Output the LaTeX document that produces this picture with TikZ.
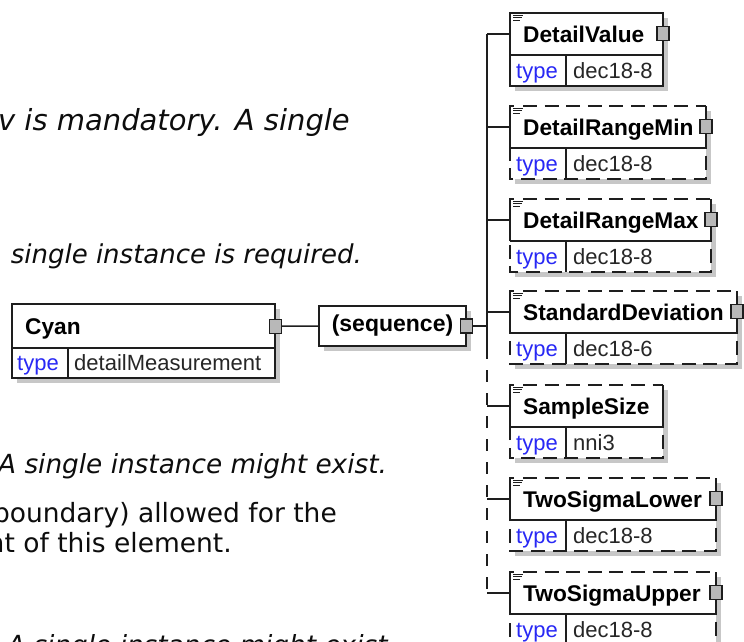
\documentclass[tikz,border=0pt]{standalone}
\usepackage{fontspec}
\setmainfont{DejaVu Sans}
\newfontfamily\dfont{Liberation Sans}
\definecolor{tyblue}{RGB}{40,40,245}
\definecolor{lncol}{RGB}{30,30,30}
\tikzset{
  ln/.style={draw=lncol, line width=1.5pt},
  dsh/.style={dash pattern=on 14pt off 7.6pt},
  busdash/.style={dash pattern=on 12pt off 11pt},
  shd/.style={fill=black!22},
  sqbox/.style={draw=lncol, line width=1.3pt, fill=black!28, minimum width=12pt, minimum height=14pt, inner sep=0pt},
  namerow/.style={inner sep=0pt, minimum height=42pt, anchor=north west},
  nmtxt/.style={font=\dfont\bfseries\fontsize{22.7}{25}\selectfont, inner sep=0pt, anchor=base west},
  tytxt/.style={font=\dfont\fontsize{22}{24}\selectfont, inner sep=0pt, anchor=base west, text=tyblue},
  vltxt/.style={font=\dfont\fontsize{22}{24}\selectfont, inner sep=0pt, anchor=base west, text=black!85},
  doctxt/.style={inner sep=0pt, text=black!95},
}
% #1 node name, #2 left, #3 top, #4 right, #5 label, #6 type, #7 optional (0/1), #8 square (0/1)
\newcommand\xelem[8]{%
  \fill[shd] (#2+5,#3+5) rectangle (#4+5,#3+78);
  \fill[white] (#2,#3) rectangle (#4,#3+73);
  \node[namerow, minimum width={(#4-#2)*1pt}] (#1) at (#2,#3) {};
  \ifnum#7=0\relax
    \draw[ln] (#2,#3) rectangle (#4,#3+73);
    \draw[ln] (#2,#3+42) -- (#4,#3+42);
  \else
    \draw[ln] (#2,#3+42) -- (#2,#3) -- (#2+4,#3);
    \draw[ln,dsh] (#2+13,#3) -- (#4,#3);
    \draw[ln] (#4,#3) -- (#4,#3+42) -- (#2,#3+42);
    \draw[ln,dsh,dash phase=14pt] (#4,#3+42) -- (#4,#3+73) -- (#2,#3+73) -- (#2,#3+42);
  \fi
  \draw[ln] (#2+56,#3+42) -- (#2+56,#3+73);
  \foreach \kk/\ww in {2/10,4.5/9,7/7} \draw[lncol, line width=0.9pt] (#2+3,#3+\kk) -- ++(\ww,0);
  \node[nmtxt] (#1-n) at (#2+13,#3+29) {#5};
  \node[tytxt] (#1-k) at (#2+6,#3+65) {type};
  \node[vltxt] (#1-v) at (#2+63,#3+65) {#6};
  \ifnum#8=1\relax \node[sqbox] (#1-sq) at (#4,#3+20.5) {};\fi
}
\begin{document}
\begin{tikzpicture}[x=1pt,y=-1pt]
\clip (0,0) rectangle (744,641);
\fill[white] (0,0) rectangle (744,641);

% page text
\node[doctxt, anchor=base east, font=\fontsize{29}{32}\selectfont\itshape] (t1) at (350,130.5) {v is mandatory. A single};
\node[doctxt, anchor=base east, font=\fontsize{26}{30}\selectfont\itshape] (t2) at (362,263) {single instance is required.};
\node[doctxt, anchor=base west, font=\fontsize{26.3}{30}\selectfont\itshape] (t3) at (-2,473) {A single instance might exist.};
\node[doctxt, anchor=base east, font=\fontsize{26.5}{30}\selectfont] (t4) at (337,522) {boundary) allowed for the};
\node[doctxt, anchor=base east, font=\fontsize{26.5}{30}\selectfont] (t5) at (232,552) {nt of this element.};
\node[doctxt, anchor=base west, font=\fontsize{26.3}{30}\selectfont\itshape] (t6) at (7,654) {A single instance might exist};

% Cyan element
\fill[shd] (17,309) rectangle (280,383);
\fill[white] (12,304) rectangle (275,378);
\node[inner sep=0pt, minimum width=263pt, minimum height=44pt, anchor=north west] (cyan) at (12,304) {};
\draw[ln] (12,304) rectangle (275,378);
\draw[ln] (12,348) -- (275,348);
\draw[ln] (68,348) -- (68,378);
\node[nmtxt] (cyan-n) at (25,334) {Cyan};
\node[tytxt] (cyan-k) at (17,370) {type};
\node[vltxt] (cyan-v) at (74,370) {detailMeasurement};
\node[sqbox] (cyan-sq) at (cyan.east) {};

% sequence
\fill[shd] (324,311) rectangle (471,351);
\node[draw=lncol, line width=1.5pt, fill=white, minimum width=147pt, minimum height=40pt, inner sep=0pt,
      font=\dfont\bfseries\fontsize{23}{25}\selectfont] (seq) at (392.5,326) {(sequence)};
\node[sqbox] (seq-sq) at (seq.east) {};
\draw[ln] (cyan-sq.east) -- (seq.west);
\coordinate (bj) at (487,326);
\draw[ln] (seq-sq.east) -- (bj);

% children
\xelem{dv}{510}{13}{663}{DetailValue}{dec18-8}{0}{1}
\xelem{drmin}{510}{106}{706}{DetailRangeMin}{dec18-8}{1}{1}
\xelem{drmax}{510}{199}{711}{DetailRangeMax}{dec18-8}{1}{1}
\xelem{sd}{510}{291}{737}{StandardDeviation}{dec18-6}{1}{1}
\xelem{ss}{510}{385}{663}{SampleSize}{nni3}{1}{0}
\xelem{tsl}{510}{478}{716}{TwoSigmaLower}{dec18-8}{1}{1}
\xelem{tsu}{510}{572}{716}{TwoSigmaUpper}{dec18-8}{1}{1}

% bus
\coordinate (bsplit) at (487,347);
\draw[ln] (dv.west -| bj) -- (bsplit);
\draw[ln,busdash] (bsplit) -- (tsu.west -| bj);
\foreach \e in {dv,drmin,drmax,sd,ss,tsl,tsu} \draw[ln] (\e.west -| bj) -- (\e.west);
\end{tikzpicture}
\end{document}
